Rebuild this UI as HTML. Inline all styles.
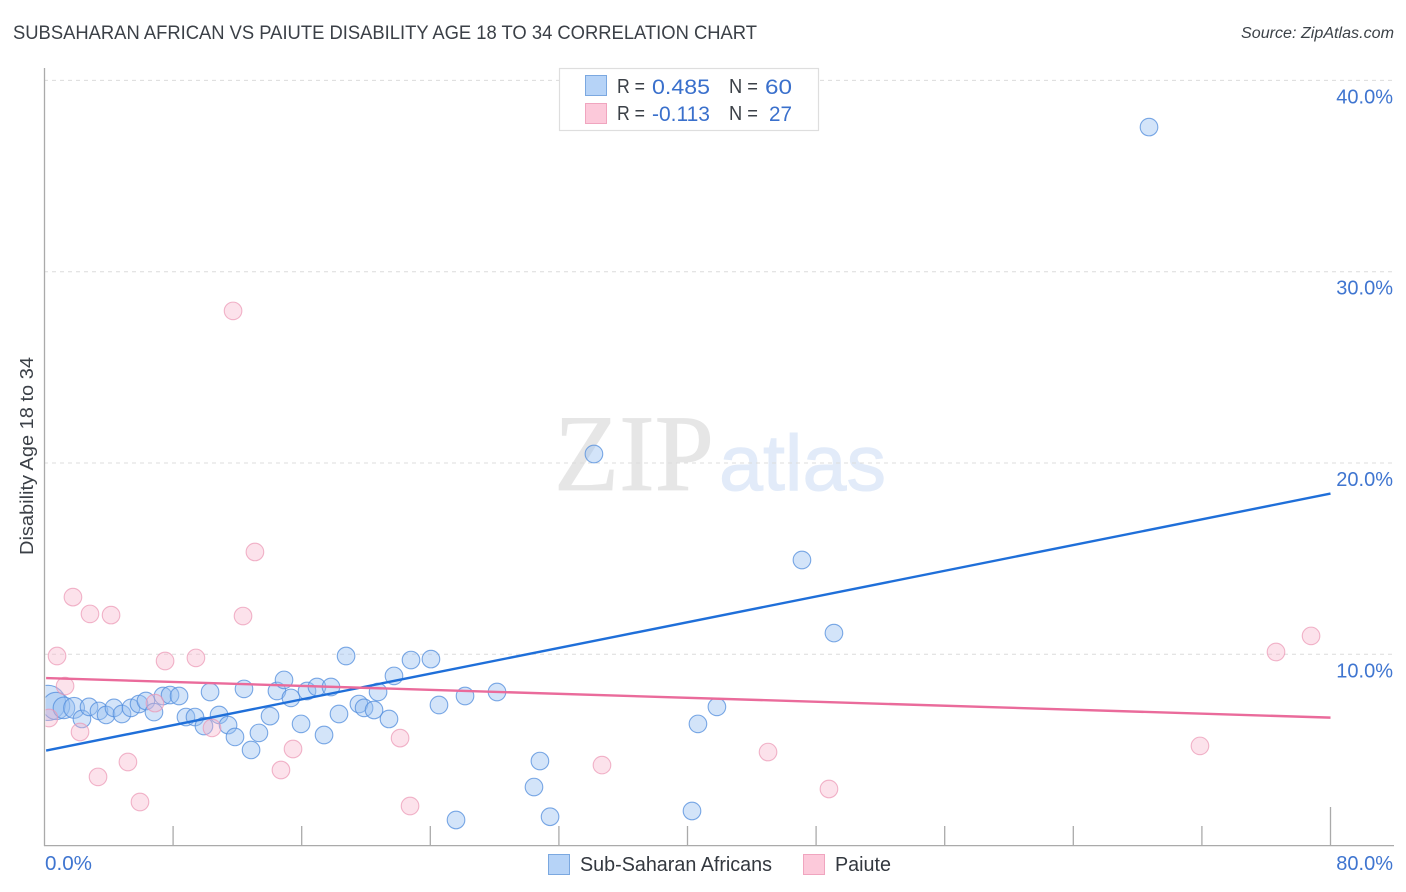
<!DOCTYPE html>
<html lang="en">
<head>
<meta charset="utf-8">
<title>Subsaharan African vs Paiute Disability Age 18 to 34 Correlation Chart</title>
<style>
html,body{margin:0;padding:0;background:#fff;width:1406px;height:892px;overflow:hidden}
svg{display:block;font-family:"Liberation Sans",sans-serif}
</style>
</head>
<body>
<svg id="chart" xmlns="http://www.w3.org/2000/svg" width="1406" height="892" viewBox="0 0 1406 892">
  <defs>
    <clipPath id="plot-clip"><rect x="45.5" y="60" width="1350" height="786"></rect></clipPath>
  </defs>
  <text x="13" y="39" font-size="19" fill="#3b4047" textLength="744" lengthAdjust="spacingAndGlyphs">SUBSAHARAN AFRICAN VS PAIUTE DISABILITY AGE 18 TO 34 CORRELATION CHART</text>
  <text x="1394" y="38" font-size="15.5" font-style="italic" fill="#3c4248" text-anchor="end" textLength="153" lengthAdjust="spacingAndGlyphs">Source: ZipAtlas.com</text>

  <g id="watermark">
    <text x="554" y="490" font-family="'Liberation Serif',serif" font-size="109" fill="#e6e6e6" stroke="#e6e6e6" stroke-width="0.8" textLength="160" lengthAdjust="spacingAndGlyphs">ZIP</text>
    <text x="719" y="490" font-size="79" fill="#e2ebf9" stroke="#e2ebf9" stroke-width="1" textLength="167" lengthAdjust="spacingAndGlyphs">atlas</text>
  </g>

  <g id="grid"></g>
  <g id="axes"></g>
  <g id="points" clip-path="url(#plot-clip)"></g>
  <g id="trends"></g>
  <g id="labels"></g>

  <text transform="translate(33,456) rotate(-90)" font-size="18.5" fill="#3b4047" text-anchor="middle" textLength="198" lengthAdjust="spacingAndGlyphs">Disability Age 18 to 34</text>

  <g>
    <rect x="559.5" y="68.5" width="259" height="62" fill="#fff" stroke="#dedede" stroke-width="1.2"></rect>
    <rect x="585.5" y="75.5" width="21" height="20" fill="#b6d3f7" stroke="#7ba8e0" stroke-width="1"></rect>
    <rect x="585.5" y="103.5" width="21" height="20" fill="#fcc9da" stroke="#f0a5bf" stroke-width="1"></rect>
    <text x="617" y="93" font-size="20" fill="#3b4047" textLength="28" lengthAdjust="spacingAndGlyphs">R =</text>
    <text x="652" y="94" font-size="21" fill="#3a70cc" textLength="58" lengthAdjust="spacingAndGlyphs">0.485</text>
    <text x="729" y="93" font-size="20" fill="#3b4047" textLength="29" lengthAdjust="spacingAndGlyphs">N =</text>
    <text x="765" y="94" font-size="21" fill="#3a70cc" textLength="27" lengthAdjust="spacingAndGlyphs">60</text>
    <text x="617" y="120" font-size="20" fill="#3b4047" textLength="28" lengthAdjust="spacingAndGlyphs">R =</text>
    <text x="652" y="121" font-size="21" fill="#3a70cc" textLength="58" lengthAdjust="spacingAndGlyphs">-0.113</text>
    <text x="729" y="120" font-size="20" fill="#3b4047" textLength="29" lengthAdjust="spacingAndGlyphs">N =</text>
    <text x="769" y="121" font-size="21" fill="#3a70cc" textLength="23" lengthAdjust="spacingAndGlyphs">27</text>
  </g>

  <g>
    <rect x="548.5" y="854.5" width="21" height="20" fill="#b6d3f7" stroke="#7ba8e0" stroke-width="1"></rect>
    <text x="580" y="871" font-size="20" fill="#33383f" textLength="192" lengthAdjust="spacingAndGlyphs">Sub-Saharan Africans</text>
    <rect x="803.5" y="854.5" width="21" height="20" fill="#fcc9da" stroke="#f0a5bf" stroke-width="1"></rect>
    <text x="835" y="871" font-size="20" fill="#33383f" textLength="56" lengthAdjust="spacingAndGlyphs">Paiute</text>
  </g>
</svg>
<script>
const yTicks = [10, 20, 30, 40];
const yTickLabels = ["10.0%", "20.0%", "30.0%", "40.0%"];
const xTicks = [0, 8, 16, 24, 32, 40, 48, 56, 64, 72, 80];
const xEndTicks = [0, 80];
const xEndLabels = ["0.0%", "80.0%"];

const blueX = [0.22,0.72,1.21,1.84,2.33,2.77,3.39,3.83,4.32,4.82,5.38,5.88,6.31,6.81,7.37,7.81,8.37,8.80,9.36,9.92,10.86,10.30,11.42,11.85,12.85,13.34,14.03,12.41,14.46,14.90,15.33,15.96,16.33,16.95,17.82,17.39,18.32,18.76,21.74,20.75,19.56,19.88,20.50,21.43,22.80,24.04,24.54,26.16,28.15,25.60,30.82,30.45,31.45,40.28,40.65,41.83,47.12,49.11,68.71,34.18];
const blueY = [7.46,7.30,7.20,7.20,6.62,7.25,7.04,6.83,7.20,6.88,7.20,7.40,7.56,6.98,7.82,7.87,7.82,6.72,6.72,6.25,6.83,8.03,6.30,5.68,5.00,5.89,6.77,8.19,8.08,8.66,7.72,6.36,8.08,8.29,8.29,5.78,6.88,9.91,8.87,8.03,7.40,7.20,7.09,6.62,9.70,9.75,7.35,7.82,8.03,1.34,4.42,3.06,1.51,1.81,6.36,7.25,14.93,11.11,37.56,20.47];
const blueWeight = [4,2.4,1.5,1.4];

const pinkX = [11.73,13.09,12.35,1.77,2.83,4.14,0.78,7.50,9.42,1.28,0.28,6.87,2.21,3.33,5.19,5.94,10.42,15.46,14.71,22.12,22.74,34.68,45.01,48.80,71.88,76.61,78.79];
const pinkY = [27.95,15.35,12.00,12.99,12.11,12.05,9.91,9.65,9.81,8.34,6.67,7.45,5.94,3.59,4.37,2.28,6.15,5.05,3.95,5.62,2.07,4.21,4.89,2.96,5.21,10.12,10.96];

const blueTrendX = [0.1, 80];
const blueTrendY = [4.97, 18.4];
const pinkTrendX = [0.1, 80];
const pinkTrendY = [8.76, 6.69];

const NS = "http://www.w3.org/2000/svg";
function xPos(v) { return 44.5 + v * 16.075; }
function yPos(v) { return 845.6 - v * 19.13; }
function make(tag, attrs, parent) {
  const el = document.createElementNS(NS, tag);
  for (const k in attrs) el.setAttribute(k, attrs[k]);
  parent.appendChild(el);
  return el;
}

const grid = document.getElementById("grid");
const axes = document.getElementById("axes");
const points = document.getElementById("points");
const trends = document.getElementById("trends");
const labels = document.getElementById("labels");

yTicks.forEach(function (t, i) {
  const line = make("line", {x1: 44, x2: 1394, y1: yPos(t), y2: yPos(t), stroke: "#dcdcdc", "stroke-width": 1, "stroke-dasharray": "4 4"}, grid);
  
  
  const lab = make("text", {x: 1393, y: yPos(t) + 23, "font-size": 20, fill: "#3f75d0", "text-anchor": "end"}, labels);
  lab.textContent = yTickLabels[i];
  
  
});

const yAxis = make("line", {x1: 44.5, x2: 44.5, y1: 68, y2: 846, stroke: "#aaaaaa", "stroke-width": 1.3}, axes);


const xAxis = make("line", {x1: 44, x2: 1394, y1: 845.6, y2: 845.6, stroke: "#aaaaaa", "stroke-width": 1.3}, axes);



xTicks.forEach(function (t) {
  if (t === 0) return;
  const top = t === 80 ? 807 : 826;
  const tick = make("line", {x1: xPos(t), x2: xPos(t), y1: top, y2: 846, stroke: "#aaaaaa", "stroke-width": 1.3}, axes);
  
  
});

xEndTicks.forEach(function (t, i) {
  const attrs = t === 0
    ? {x: xPos(t) + 0.5, y: 870, "font-size": 20, fill: "#3f75d0", textLength: 47, lengthAdjust: "spacingAndGlyphs"}
    : {x: 1393, y: 870, "font-size": 20, fill: "#3f75d0", "text-anchor": "end"};
  const lab = make("text", attrs, labels);
  lab.textContent = xEndLabels[i];
  
  
});

blueX.forEach(function (v, i) {
  const w = blueWeight[i] === undefined ? 1 : blueWeight[i];
  const c = make("circle", {cx: xPos(v), cy: yPos(blueY[i]), r: 8.8 * Math.sqrt(w), fill: "rgba(150,190,240,0.42)", stroke: "rgba(80,140,220,0.75)", "stroke-width": 1.1}, points);
  
  
});

pinkX.forEach(function (v, i) {
  const c = make("circle", {cx: xPos(v), cy: yPos(pinkY[i]), r: 8.8, fill: "rgba(248,180,202,0.38)", stroke: "rgba(235,150,180,0.7)", "stroke-width": 1.1}, points);
  
  
});

const blueLine = make("line", {x1: xPos(blueTrendX[0]), y1: yPos(blueTrendY[0]), x2: xPos(blueTrendX[1]), y2: yPos(blueTrendY[1]), stroke: "#1f6fd9", "stroke-width": 2.4}, trends);


const pinkLine = make("line", {x1: xPos(pinkTrendX[0]), y1: yPos(pinkTrendY[0]), x2: xPos(pinkTrendX[1]), y2: yPos(pinkTrendY[1]), stroke: "#ea6b9b", "stroke-width": 2.4}, trends);


</script>
</body>
</html>
